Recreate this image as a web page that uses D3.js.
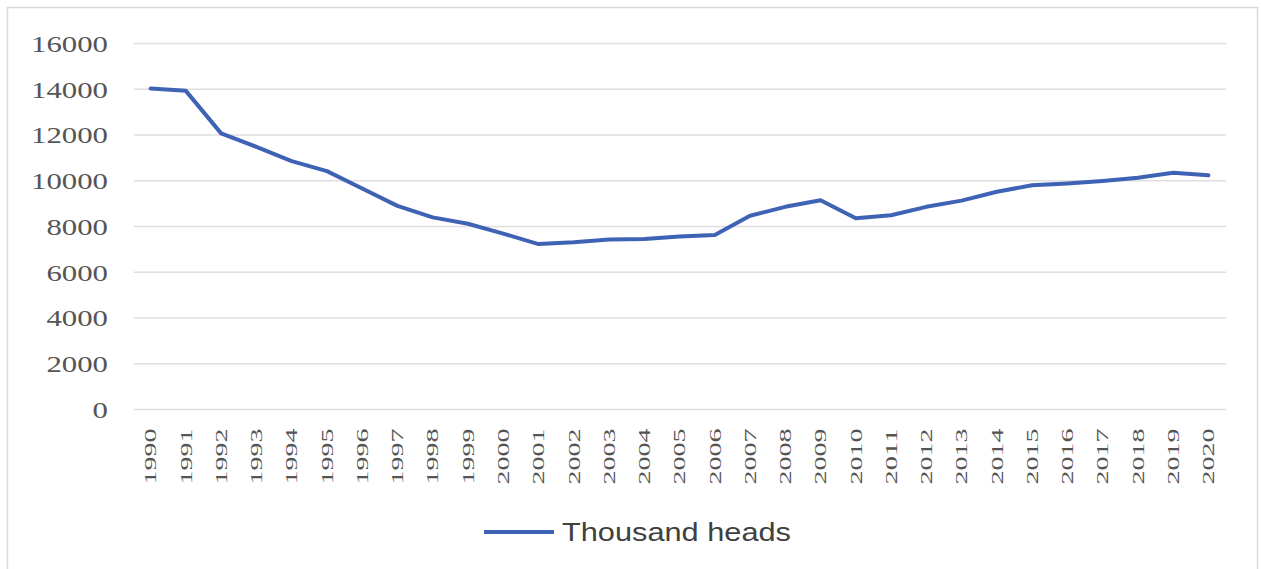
<!DOCTYPE html>
<html>
<head>
<meta charset="utf-8">
<script src="https://cdn.jsdelivr.net/npm/d3@7"></script>
<style>
  html, body { margin: 0; padding: 0; background: #ffffff; }
  svg { display: block; }
</style>
</head>
<body>
<svg id="chart" width="1261" height="569"></svg>
<script>
const years = ["1990","1991","1992","1993","1994","1995","1996","1997","1998","1999",
               "2000","2001","2002","2003","2004","2005","2006","2007","2008","2009",
               "2010","2011","2012","2013","2014","2015","2016","2017","2018","2019","2020"];
const thousandHeads = [14030, 13930, 12070, 11480, 10860, 10420, 9660, 8900, 8400, 8120,
                       7690, 7230, 7310, 7430, 7450, 7560, 7630, 8470, 8860, 9150,
                       8360, 8490, 8860, 9130, 9520, 9800, 9880, 9990, 10130, 10350, 10240];
const yTicks = [0, 2000, 4000, 6000, 8000, 10000, 12000, 14000, 16000];
const seriesName = "Thousand heads";

const svg = d3.select("#chart");

// outer frame
svg.append("rect")
  .attr("x", 7.5).attr("y", 7.5)
  .attr("width", 1250).attr("height", 570)
  .attr("fill", "#ffffff")
  .attr("stroke", "#d9d9d9")
  .attr("stroke-width", 1.5);

const x = d3.scaleBand().domain(years).range([133, 1226]).padding(0);
const y = d3.scaleLinear().domain([0, 16000]).range([409.5, 43.5]);

// gridlines
svg.append("g").selectAll("line").data(yTicks).join("line")
  .attr("x1", 134).attr("x2", 1226)
  .attr("y1", d => y(d)).attr("y2", d => y(d))
  .attr("stroke", "#dedede")
  .attr("stroke-width", 1.5);

// y axis labels
const yAxis = d3.axisLeft(y).tickValues(yTicks).tickSize(0).tickPadding(0).tickFormat(d3.format("d"));
const gy = svg.append("g").attr("transform", "translate(108,0)").call(yAxis);
gy.select(".domain").remove();
gy.selectAll("text")
  .attr("font-family", "'Liberation Serif', 'DejaVu Serif', serif")
  .attr("font-size", 23)
  .attr("fill", "#555555")
  .attr("dy", "0.34em")
  .attr("x", 0)
  .attr("text-anchor", "end")
  .attr("textLength", d => String(d).length * 15.4)
  .attr("lengthAdjust", "spacingAndGlyphs");

// x axis labels (rotated)
const xAxis = d3.axisBottom(x).tickSize(0).tickPadding(0);
const gx = svg.append("g").attr("transform", "translate(0,409.5)").call(xAxis);
gx.select(".domain").remove();
gx.selectAll("text")
  .attr("font-family", "'Liberation Serif', 'DejaVu Serif', serif")
  .attr("font-size", 17)
  .attr("fill", "#555555")
  .attr("text-anchor", "end")
  .attr("transform", "rotate(-90)")
  .attr("x", -19)
  .attr("y", 0)
  .attr("dy", "0.34em")
  .attr("textLength", 56)
  .attr("lengthAdjust", "spacingAndGlyphs");

// line
const line = d3.line()
  .x((d, i) => x(years[i]) + x.bandwidth() / 2)
  .y(d => y(d));

svg.append("path")
  .datum(thousandHeads)
  .attr("d", line)
  .attr("fill", "none")
  .attr("stroke", "#3f63b4")
  .attr("stroke-width", 4)
  .attr("stroke-linejoin", "round")
  .attr("stroke-linecap", "round");

// legend
const lg = svg.append("g");
lg.append("line")
  .attr("x1", 484).attr("x2", 554)
  .attr("y1", 532).attr("y2", 532)
  .attr("stroke", "#3f63b4")
  .attr("stroke-width", 4);
lg.append("text")
  .attr("x", 562).attr("y", 541)
  .attr("font-family", "'Liberation Sans', Arial, sans-serif")
  .attr("font-size", 26)
  .attr("fill", "#404040")
  .attr("textLength", 229)
  .attr("lengthAdjust", "spacingAndGlyphs")
  .text(seriesName);
</script>
</body>
</html>
